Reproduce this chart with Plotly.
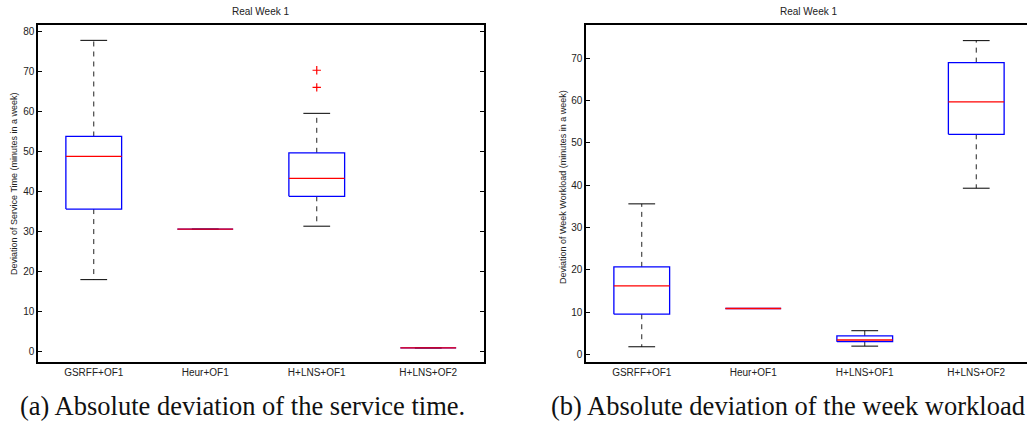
import plotly.graph_objects as go

# Method labels on the x axis
categories = ["GSRFF+OF1", "Heur+OF1", "H+LNS+OF1", "H+LNS+OF2"]

# (a) deviation of service time: box-plot statistics per method
st_lower = [17.9, 30.55, 31.3, 0.8]
st_q1 = [35.6, 30.55, 38.8, 0.8]
st_median = [48.8, 30.55, 43.3, 0.8]
st_q3 = [53.8, 30.55, 49.7, 0.8]
st_upper = [77.9, 30.55, 59.6, 0.8]
st_outlier_method = ["H+LNS+OF1", "H+LNS+OF1"]
st_outlier_value = [66.1, 70.4]

# (b) deviation of week workload: box-plot statistics per method
wl_lower = [1.8, 10.85, 1.95, 39.3]
wl_q1 = [9.5, 10.85, 3.0, 52.05]
wl_median = [16.2, 10.85, 3.4, 59.7]
wl_q3 = [20.7, 10.85, 4.4, 69.0]
wl_upper = [35.6, 10.85, 5.6, 74.2]

st_ticks = [0, 10, 20, 30, 40, 50, 60, 70, 80]
wl_ticks = [0, 10, 20, 30, 40, 50, 60, 70]

BOX_HALF = 0.25
CAP_HALF = 0.12
W, H = 1027, 424
FONT = "Liberation Sans, Arial, sans-serif"

fig = go.Figure()


def add_boxplot(xa, ya, low, q1, med, q3, high):
    wx, wy, cx, cy, bx, by, mx, my = [], [], [], [], [], [], [], []
    for i, _ in enumerate(categories):
        p = i + 1
        # dashed whiskers
        wx += [p, p, None, p, p, None]
        wy += [q3[i], high[i], None, q1[i], low[i], None]
        # whisker end caps
        cx += [p - CAP_HALF, p + CAP_HALF, None, p - CAP_HALF, p + CAP_HALF, None]
        cy += [high[i], high[i], None, low[i], low[i], None]
        # box outline
        bx += [p - BOX_HALF, p + BOX_HALF, p + BOX_HALF, p - BOX_HALF, p - BOX_HALF, None]
        by += [q1[i], q1[i], q3[i], q3[i], q1[i], None]
        # median
        mx += [p - BOX_HALF, p + BOX_HALF, None]
        my += [med[i], med[i], None]
    common = dict(xaxis=xa, yaxis=ya, mode="lines", showlegend=False, hoverinfo="skip")
    fig.add_trace(go.Scatter(x=wx, y=wy, line=dict(color="#222222", width=1, dash="5px,5px"), **common))
    fig.add_trace(go.Scatter(x=cx, y=cy, line=dict(color="black", width=1), **common))
    fig.add_trace(go.Scatter(x=bx, y=by, line=dict(color="#0000ff", width=1.3), **common))
    fig.add_trace(go.Scatter(x=mx, y=my, line=dict(color="#ff0000", width=1.3), **common))


add_boxplot("x", "y", st_lower, st_q1, st_median, st_q3, st_upper)
add_boxplot("x2", "y2", wl_lower, wl_q1, wl_median, wl_q3, wl_upper)

fig.add_trace(go.Scatter(
    x=[categories.index(m) + 1 for m in st_outlier_method], y=st_outlier_value,
    xaxis="x", yaxis="y", mode="markers", showlegend=False, hoverinfo="skip",
    marker=dict(symbol="cross-thin", size=6, line=dict(color="#ff0000", width=1.2)),
))

ytop = (H - 25) / H
ybot = (H - 362) / H

axis_font = dict(family=FONT, size=10, color="#222222")
xcommon = dict(
    tickvals=[1, 2, 3, 4], ticktext=categories, ticks="", showgrid=False, zeroline=False,
    showline=True, linecolor="black", linewidth=1.5, tickfont=axis_font,
)
ycommon = dict(
    ticks="inside", ticklen=4, tickcolor="black", showgrid=False, zeroline=False,
    showline=True, linecolor="black", linewidth=1.5, tickfont=axis_font,
)

fig.update_layout(
    width=W, height=H,
    margin=dict(l=0, r=0, t=0, b=0),
    paper_bgcolor="white", plot_bgcolor="white",
    xaxis=dict(domain=[38 / W, 484 / W], range=[0.5, 4.5], anchor="y", mirror=True, **xcommon),
    yaxis=dict(domain=[ybot, ytop], range=[-2.75, 81.75], anchor="x", tickvals=st_ticks,
               mirror="ticks", **ycommon),
    xaxis2=dict(domain=[586 / W, 1.0], range=[0.5, 0.5 + (W - 586) / 111.5], anchor="y2",
                mirror=True, **xcommon),
    yaxis2=dict(domain=[ybot, ytop], range=[-1.8, 77.9], anchor="x2", tickvals=wl_ticks,
                mirror=False, **ycommon),
)


def note(text, xref, x, ypx, size, family=FONT, angle=0, xanchor="center", color="#222222"):
    return dict(text=text, xref=xref, yref="paper", x=x, y=(H - ypx) / H,
                xanchor=xanchor, yanchor="middle", textangle=angle, showarrow=False,
                font=dict(family=family, size=size, color=color))


annotations = [
    note("Real Week 1", "x", 2.5, 12, 10),
    note("Real Week 1", "x2", 2.5, 12, 10),
    note("Deviation of Service Time (minutes in a week)", "paper", 14 / W, 184, 9, angle=-90),
    note("Deviation of Week Workload (minutes in a week)", "paper", 563 / W, 187, 9, angle=-90),
    note("(a) Absolute deviation of the service time.", "paper", 18 / W, 406, 26.5,
         family="Liberation Serif, serif", xanchor="left", color="#111111"),
    note("(b) Absolute deviation of the week workload", "paper", 549 / W, 406, 26.5,
         family="Liberation Serif, serif", xanchor="left", color="#111111"),
]
fig.update_layout(annotations=annotations)

fig.write_html("out.html")
